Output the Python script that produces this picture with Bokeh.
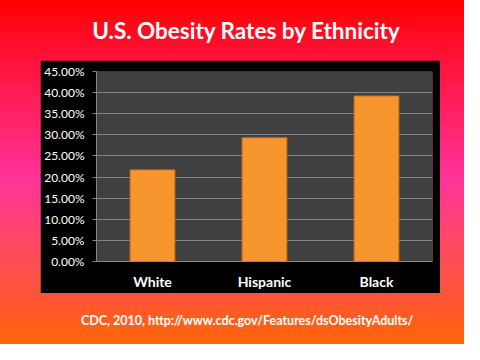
from bokeh.plotting import figure
from bokeh.models import Div, NumeralTickFormatter, FixedTicker, Range1d, FactorRange
from bokeh.layouts import column
from bokeh.embed import file_html
from bokeh.resources import INLINE

# ---- data ----
categories = ["White", "Hispanic", "Black"]
rates = [0.217, 0.293, 0.392]
y_ticks = [0.0, 0.05, 0.10, 0.15, 0.20, 0.25, 0.30, 0.35, 0.40, 0.45]
title_text = "U.S. Obesity Rates by Ethnicity"
source_text = "CDC, 2010, http://www.cdc.gov/Features/dsObesityAdults/"

FONT = "Lato"

title_div = Div(
    text=f'<div style="box-sizing:border-box;width:464px;text-align:center;padding-top:18px;padding-left:28px;color:white;'
         f'font-family:{FONT};font-weight:bold;font-size:22.5px;line-height:26px;white-space:nowrap">{title_text}</div>',
    width=464, height=60, margin=(0, 0, 0, 0),
)

p = figure(
    x_range=FactorRange(*categories, range_padding=0),
    y_range=Range1d(0, 0.45),
    width=400, height=233,
    output_backend="svg", toolbar_location=None,
    min_border_left=56, min_border_right=8, min_border_top=11, min_border_bottom=32,
    margin=(0, 0, 0, 40),
)
p.border_fill_color = "black"
p.background_fill_color = "#404040"
p.outline_line_color = None

p.vbar(x=categories, top=rates, width=0.4, fill_color="#F7962F", line_color="#C96E1E", line_width=1)

p.yaxis.ticker = FixedTicker(ticks=y_ticks)
p.yaxis.formatter = NumeralTickFormatter(format="0.00%")
p.yaxis.major_label_text_color = "white"
p.yaxis.major_label_text_font = FONT
p.yaxis.major_label_text_font_size = "12px"
p.yaxis.major_label_standoff = 8
p.yaxis.major_tick_out = 4
p.yaxis.major_tick_in = 0
p.yaxis.minor_tick_line_color = None
p.yaxis.axis_line_color = "#868686"
p.yaxis.major_tick_line_color = "#868686"

p.xaxis.major_label_text_color = "white"
p.xaxis.major_label_text_font = FONT
p.xaxis.major_label_text_font_style = "bold"
p.xaxis.major_label_text_font_size = "14px"
p.xaxis.major_label_standoff = 5
p.xaxis.major_tick_line_color = None
p.xaxis.axis_line_color = "#868686"

p.xgrid.grid_line_color = None
p.ygrid.grid_line_color = "#858585"
p.ygrid.grid_line_width = 1

footer_div = Div(
    text=f'<div style="padding-top:20px;padding-left:81px;color:white;font-family:{FONT};'
         f'font-weight:bold;font-size:12.5px;line-height:15px;white-space:nowrap">{source_text}</div>',
    width=464, height=51, margin=(0, 0, 0, 0),
)

layout = column(
    title_div, p, footer_div,
    width=464, height=344, spacing=0, margin=(0, 0, 0, 0),
    styles={"background": "linear-gradient(to bottom, #FF0000 0%, #FF1238 17%, #FF3399 52%, "
                          "#FF4A60 72%, #FF5535 87%, #FF6707 100%)"},
)

open("out.html", "w").write(file_html(layout, INLINE))
